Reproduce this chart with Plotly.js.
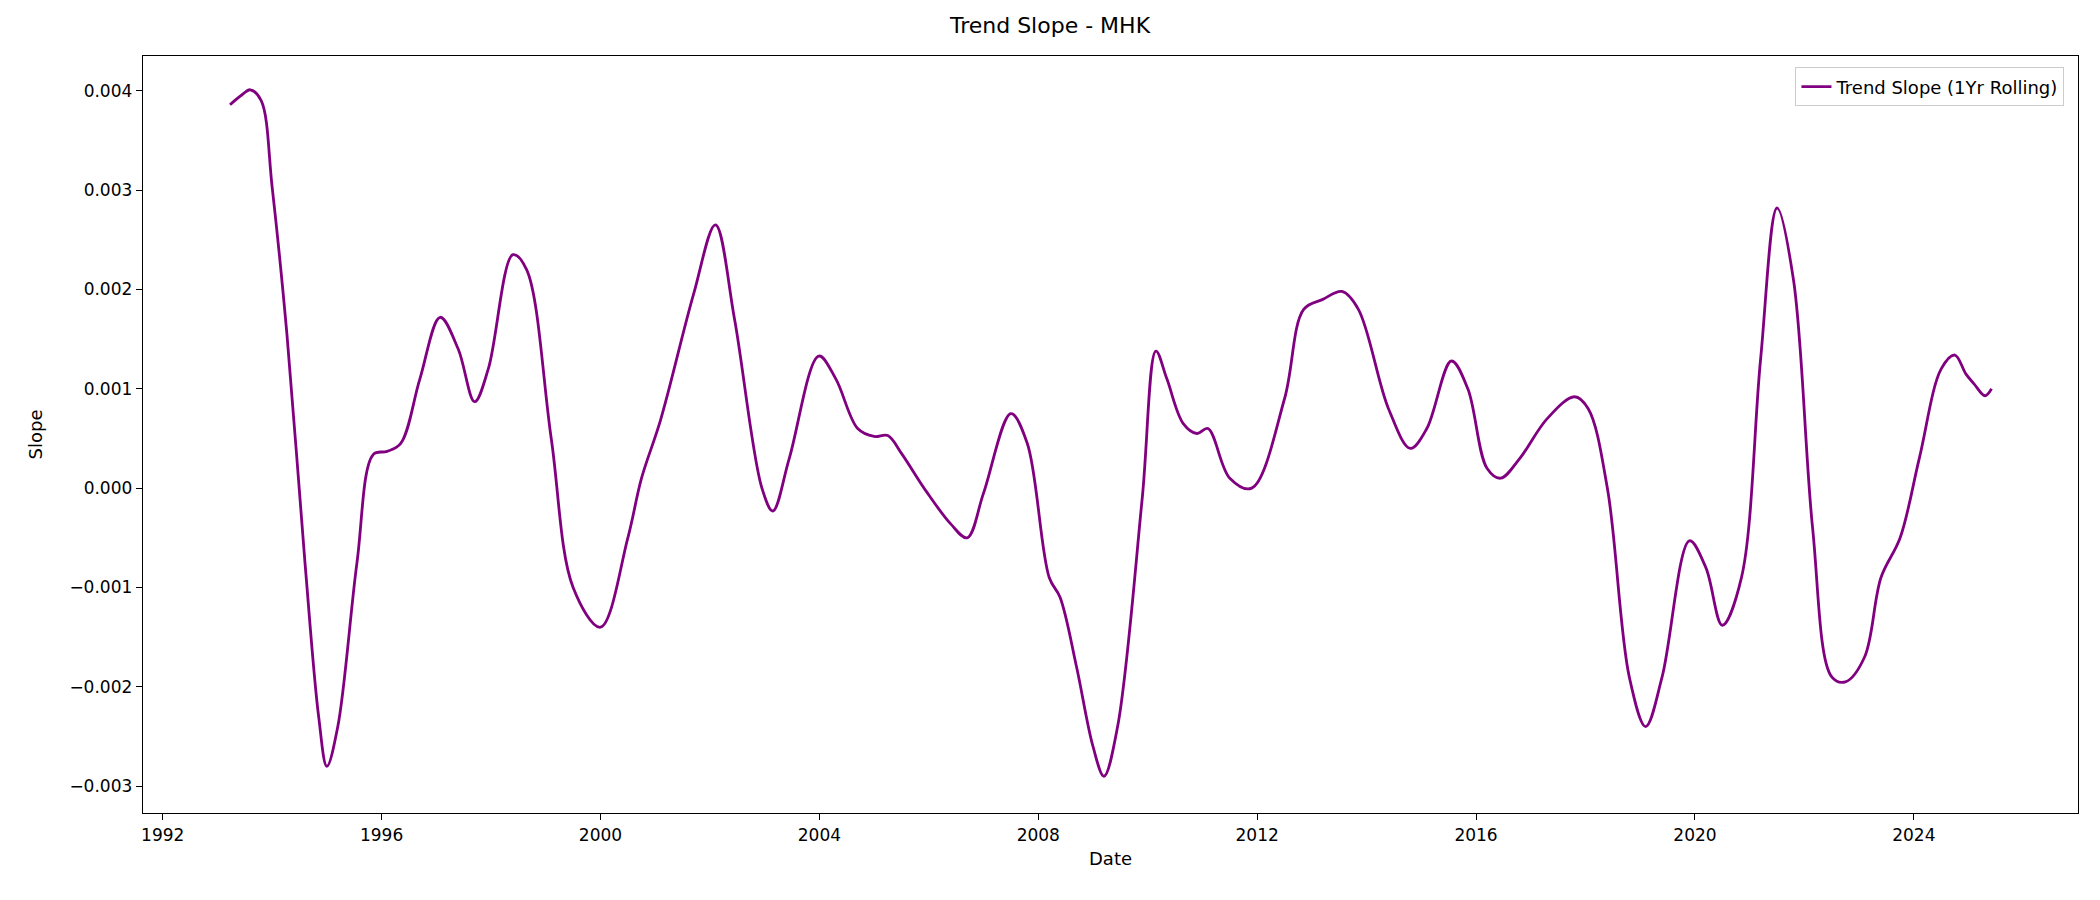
<!DOCTYPE html>
<html>
<head>
<meta charset="utf-8">
<script src="https://cdn.plot.ly/plotly-3.0.1.min.js"></script>
<style>body{margin:0;background:#fff}#plot{width:2100px;height:900px}</style>
</head>
<body>
<div id="plot"></div>
<script>
// 1yr rolling trend slope
const years = [1993.23,1993.45,1993.6,1993.8,1994.0,1994.27,1994.6,1994.85,1995.0,1995.2,1995.55,1995.85,1996.1,1996.35,1996.7,1997.07,1997.4,1997.7,1997.95,1998.4,1998.65,1999.1,1999.5,2000.0,2000.5,2000.75,2001.1,2001.7,2002.1,2002.45,2002.95,2003.15,2003.45,2003.99,2004.3,2004.7,2005.0,2005.25,2005.5,2005.95,2006.4,2006.7,2007.0,2007.5,2007.8,2008.2,2008.4,2008.7,2009.0,2009.2,2009.45,2009.9,2010.15,2010.35,2010.65,2010.9,2011.1,2011.5,2011.9,2012.5,2012.85,2013.2,2013.55,2013.85,2014.4,2014.8,2015.1,2015.55,2015.85,2016.2,2016.45,2016.8,2017.3,2017.8,2018.05,2018.4,2018.8,2019.1,2019.4,2019.9,2020.2,2020.5,2020.85,2021.2,2021.5,2021.8,2022.15,2022.5,2022.75,2023.1,2023.4,2023.75,2024.1,2024.5,2024.75,2024.95,2025.1,2025.3,2025.42];
const slope = [0.00386,0.00396,0.00401,0.0039,0.00303,0.00155,-0.00075,-0.0023,-0.0028,-0.0024,-0.00075,0.00034,0.00037,0.00045,0.0011,0.00172,0.0014,0.00087,0.0012,0.00235,0.0022,0.0005,-0.001,-0.0014,-0.0005,0.0001,0.00069,0.00195,0.00265,0.0017,0.0,-0.00023,0.0003,0.00133,0.0011,0.0006,0.00052,0.00053,0.00035,-0.00003,-0.00036,-0.0005,-0.00005,0.00075,0.00045,-0.0009,-0.0011,-0.0018,-0.0026,-0.0029,-0.0024,-0.0001,0.00138,0.0011,0.00065,0.00055,0.0006,0.0001,0.0,0.0009,0.0018,0.0019,0.00198,0.0018,0.0008,0.0004,0.0006,0.00128,0.001,0.0002,0.0001,0.0003,0.0007,0.00092,0.0008,0.0,-0.0019,-0.0024,-0.0019,-0.00053,-0.0008,-0.00138,-0.0009,0.0013,0.00282,0.0021,-0.0004,-0.0019,-0.00195,-0.0017,-0.0009,-0.0005,0.0003,0.0012,0.00134,0.00115,0.00105,0.00093,0.001];
const yTicks = [-0.003,-0.002,-0.001,0,0.001,0.002,0.003,0.004];

const trace = {
    x: years, y: slope, type: 'scatter', mode: 'lines',
    name: 'Trend Slope (1Yr Rolling)',
    line: {color: 'purple', width: 2.8, shape: 'spline', smoothing: 1},
};
const axisBase = {
    showgrid: false, zeroline: false, showline: true, mirror: true,
    linecolor: '#000', linewidth: 1.3, ticks: 'outside', ticklen: 6, tickcolor: '#000',
    tickfont: {size: 17, color: '#000'},
};
const layout = {
    width: 2100, height: 900,
    margin: {l: 143, r: 22, t: 56, b: 87},
    paper_bgcolor: '#fff', plot_bgcolor: '#fff',
    font: {family: 'DejaVu Sans', color: '#000'},
    title: {text: 'Trend Slope - MHK', font: {size: 22}, x: 0.5, y: 0.972, yanchor: 'middle'},
    xaxis: Object.assign({}, axisBase, {
        range: [1991.64, 2027.0], tickvals: [1992,1996,2000,2004,2008,2012,2016,2020,2024],
        ticktext: ['1992','1996','2000','2004','2008','2012','2016','2020','2024'],
        title: {text: 'Date', font: {size: 18}, standoff: 8},
    }),
    yaxis: Object.assign({}, axisBase, {
        range: [-0.00327, 0.00435], tickvals: yTicks,
        ticktext: yTicks.map(v => (v < 0 ? '\u2212' : '') + Math.abs(v).toFixed(3)),
        title: {text: 'Slope', font: {size: 18}, standoff: 22},
    }),
    showlegend: true,
    legend: {x: 0.993, y: 0.985, xanchor: 'right', yanchor: 'top', bgcolor: '#fff',
        bordercolor: '#ccc', borderwidth: 1, font: {size: 18}},
};
Plotly.newPlot('plot', [trace], layout, {staticPlot: true});
</script>
</body>
</html>
